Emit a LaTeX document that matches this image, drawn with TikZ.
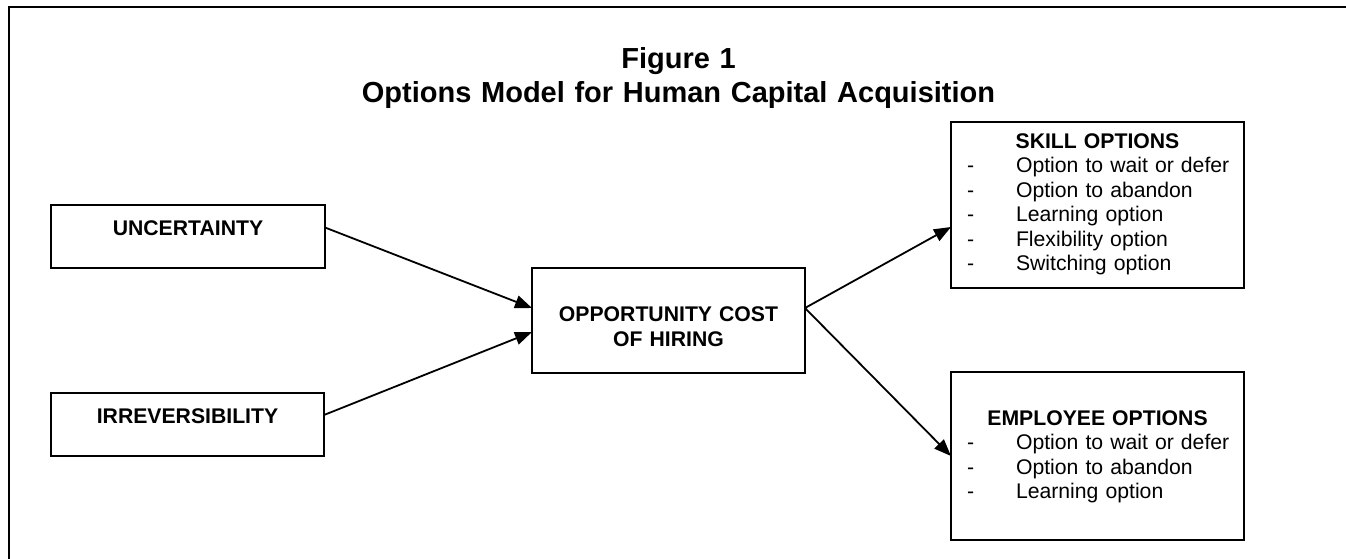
\documentclass[tikz,border=0pt]{standalone}
\usepackage{fontspec}
\setsansfont{Liberation Sans}
\usetikzlibrary{arrows.meta}
\usetikzlibrary{shapes}
\newcommand{\optItem}[1]{\mbox{\makebox[49pt][l]{-}#1}}
\newcommand{\optHead}[1]{\makebox[261pt]{\bfseries #1}}

\begin{document}
\begin{tikzpicture}[x = 1pt, y = -1pt, font=\sffamily]
	\tikzstyle{boxStyle} = [draw, line width = 2pt, outer sep = 0pt, anchor = north west, inner sep = 0pt, align = center, font = \sffamily\bfseries\fontsize{21.2}{25}\selectfont]
	\tikzstyle{listStyle} = [draw, line width = 2pt, outer sep = 0pt, anchor = north west, inner xsep = 16pt, inner ysep = 0pt, text width = 261pt, align = left, font = \sffamily\fontsize{21.2}{24.5}\selectfont]
	\tikzstyle{arrowStyle} = [line width = 1.8pt, -{Triangle[length = 17pt, width = 13pt]}]
	\useasboundingbox (0,0) rectangle (1346,558);
	\draw[line width = 2pt] (8.5,570) -- (8.5,7) -- (1360,7);
	\node[anchor = base, inner sep = 0pt, text width = 700pt, align = center, font = \sffamily\bfseries\fontsize{29}{34}\selectfont] (title) at (678.5,68) {Figure 1\\Options Model for Human Capital Acquisition};
	\node[boxStyle, text width = 274pt, text height = 30pt, text depth = 33pt] (unc) at (51,205) {UNCERTAINTY};
	\node[boxStyle, text width = 273pt, text height = 30pt, text depth = 33pt] (irr) at (51,393) {IRREVERSIBILITY};
	\node[boxStyle, text width = 273pt, text height = 53pt, text depth = 52pt] (cost) at (532,268) {OPPORTUNITY COST\\OF HIRING};
	\node[listStyle, text height = 26pt, text depth = 140pt] (skill) at (951,122) {\optHead{SKILL OPTIONS}\\\optItem{Option to wait or defer}\\\optItem{Option to abandon}\\\optItem{Learning option}\\\optItem{Flexibility option}\\\optItem{Switching option}};
	\node[listStyle, text height = 53pt, text depth = 115pt] (empl) at (951,372) {\optHead{EMPLOYEE OPTIONS}\\\optItem{Option to wait or defer}\\\optItem{Option to abandon}\\\optItem{Learning option}};
	\draw[arrowStyle] ([yshift = 9pt]unc.east) -- ([yshift = 12.5pt]cost.west);
	\draw[arrowStyle] ([yshift = 9.5pt]irr.east) -- ([yshift = -11.5pt]cost.west);
	\draw[arrowStyle] ([yshift = 12.5pt]cost.east) -- ([yshift = -22pt]skill.west);
	\draw[arrowStyle] ([yshift = 12.5pt]cost.east) -- (empl.west);
\end{tikzpicture}
\end{document}
